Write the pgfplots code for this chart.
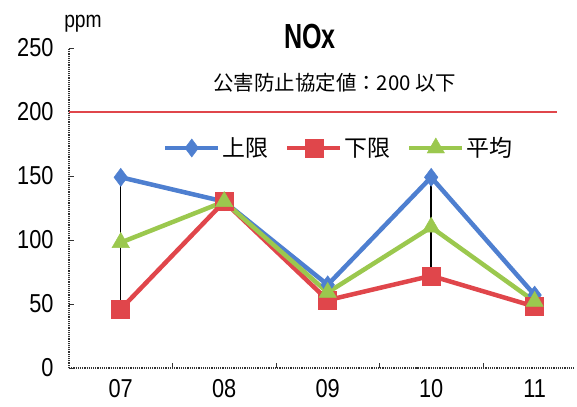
\documentclass[border=0pt]{standalone}
\usepackage{pgfplots}
\pgfplotsset{compat=1.18}
\usepackage{fontspec}
\setmainfont{Liberation Sans}
\newfontfamily\narrow[FakeStretch=0.84]{Liberation Sans}
\newfontfamily\titlefont[FakeStretch=0.72]{Liberation Sans Bold}
\newfontfamily\jp{Noto Sans CJK JP}
\definecolor{cUp}{HTML}{4E7FD0}
\definecolor{cLo}{HTML}{E0464B}
\definecolor{cAvg}{HTML}{9BC84E}

\begin{document}
\begin{tikzpicture}
  \begin{axis}[
      scale only axis,
      width=506bp, height=320bp,
      xmin=-0.5, xmax=4.39,
      ymin=0, ymax=250,
      clip=false,
      axis x line*=bottom, axis y line*=left,
      axis line style={-, black!80, line width=1.2pt, densely dotted},
      tick align=inside,
      major tick length=5bp,
      tick style={black!80, line width=0.6pt},
      ytick={0,50,100,150,200,250},
      xtick={0.5,1.5,2.5,3.5},
      xticklabels={},
      extra x ticks={0,1,2,3,4},
      extra x tick labels={07,08,09,10,11},
      extra x tick style={major tick length=0pt},
      /pgf/number format/assume math mode=true,
      tick label style={font=\narrow\fontsize{26}{30}\selectfont},
      yticklabel style={xshift=-12bp},
      xticklabel style={yshift=-8bp},
      legend style={
        at={(0.533,0.6875)}, anchor=center,
        draw=none, fill=none,
        legend columns=-1,
        font=\jp\fontsize{23}{27}\selectfont,
        /tikz/every even column/.append style={column sep=15bp},
      },
      legend image code/.code={
        \draw[mark repeat=2, mark phase=2, #1]
          plot coordinates {(0cm,0cm) (0.93cm,0cm) (1.86cm,0cm)};
      },
    ]
    % limit line
    \addplot[cLo, line width=1.4pt, forget plot] coordinates {(-0.5,200) (4.22,200)};

    \addplot[cUp, line width=4.5bp, mark=diamond*, mark size=9bp,
             mark options={solid, fill=cUp, draw=cUp, line width=0.5pt}]
      coordinates {(0,149) (1,130) (2,65) (3,149) (4,57)};
    \addlegendentry{上限}

    \addplot[cLo, line width=4.5bp, mark=square*, mark size=9bp,
             mark options={solid, fill=cLo, draw=cLo, line width=0.5pt}]
      coordinates {(0,46) (1,130) (2,53) (3,72) (4,48)};
    \addlegendentry{下限}

    \addplot[cAvg, line width=4.5bp, mark=triangle*, mark size=10bp,
             mark options={solid, fill=cAvg, draw=cAvg, line width=0.5pt}]
      coordinates {(0,98) (1,130) (2,59) (3,110) (4,52)};
    \addlegendentry{平均}

    % high-low lines
    \addplot[black, line width=1.5pt, forget plot] coordinates {(0,149) (0,46)};
    \addplot[black, line width=1.5pt, forget plot] coordinates {(2,65) (2,53)};
    \addplot[black, line width=1.5pt, forget plot] coordinates {(3,149) (3,72)};
    \addplot[black, line width=1.5pt, forget plot] coordinates {(4,57) (4,48)};

    \node[font=\jp\fontsize{20.5}{24}\selectfont] at (axis cs:2.07,223) {公害防止協定値：200 以下};
    \node[font=\titlefont\fontsize{35}{40}\selectfont] at ([yshift=12bp]rel axis cs:0.476,1) {NOx};
    \node[font=\narrow\fontsize{23}{26}\selectfont, anchor=base] at ([shift={(14bp,20bp)}]rel axis cs:0,1) {ppm};

    \coordinate (bl) at (rel axis cs:0,0);
    \coordinate (tr) at (rel axis cs:1,1);
  \end{axis}
  \pgfresetboundingbox
  \path[use as bounding box] ([shift={(-69bp,-39bp)}]bl) rectangle ([shift={(2bp,48bp)}]tr);
\end{tikzpicture}
\end{document}
